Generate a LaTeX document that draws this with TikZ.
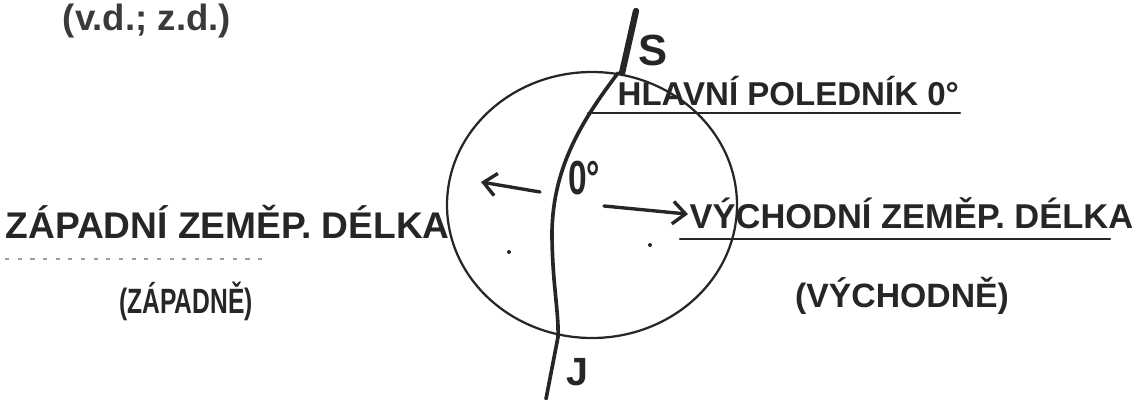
\documentclass[tikz,border=0pt]{standalone}
\usepackage{fontspec}
\usepackage{tikz}
\usetikzlibrary{arrows.meta, positioning, calc}
\setmainfont{Liberation Sans}
\newfontfamily\hand{Liberation Sans}
\newfontfamily\handn[FakeStretch=0.7]{Liberation Sans}
\definecolor{ink}{HTML}{262626}
\definecolor{printgray}{HTML}{3A3A3A}

\tikzset{
    handtext/.style={text=ink, inner sep=1pt, font=\hand\bfseries\fontsize{#1}{#1}\selectfont},
    handnarrow/.style={text=ink, inner sep=1pt, font=\handn\bfseries\fontsize{#1}{#1}\selectfont},
    handline/.style={draw=ink, line width=1.6pt, line cap=round},
    handarrow/.style={handline, line width=2.4pt, -{Straight Barb[length=9pt, width=16pt, line width=2.4pt]}}
}

\begin{document}
\begin{tikzpicture}[x=0.025cm, y=-0.025cm]
    \useasboundingbox (0,0) rectangle (1141,400);

    % Title
    \node[text=printgray, font=\bfseries\fontsize{26}{26}\selectfont, anchor=west] (title) at (58,21) {(v.d.; z.d.)};

    % Globe and prime meridian
    \draw[handline] (592,205) ellipse [x radius=145, y radius=133];
    \draw[draw=ink, line width=4.5pt, line cap=round] (636,11) -- (622,73);
    \draw[handline, line width=2.6pt] (618,73) .. controls (584,118) and (553,165) .. (552,232)
        .. controls (552,282) and (559,312) .. (558,337) -- (546,399);

    % Poles
    \node[handtext=31] (lblS) at (653,50) {S};
    \node[handtext=28] (lblJ) at (577,372) {J};

    % Prime meridian label
    \node[handtext=23.5, anchor=base west] (hlavni) at (616,106) {HLAVNÍ POLEDNÍK 0°};
    \coordinate (ulH0) at (588,113);
    \coordinate (ulH1) at (960,113);
    \draw[handline] (ulH0) -- (ulH1);

    % Zero degrees and arrows
    \node[handnarrow=34] (nula) at (584,178) {0°};
    \coordinate (arrL0) at (540,192);
    \coordinate (arrL1) at (481,182);
    \draw[handarrow] (arrL0) -- (arrL1);
    \coordinate (arrR0) at (604,206);

    % West / east labels
    \node[handtext=26.4, anchor=base west] (zapad) at (4,238) {ZÁPADNÍ ZEMĚP. DÉLKA};
    \node[handtext=24.5, anchor=base west] (vychod) at (688,228) {VÝCHODNÍ ZEMĚP. DÉLKA};
    \draw[handarrow] (arrR0) -- ([yshift=-1pt]vychod.west);
    \coordinate (ulV0) at (680,239);
    \coordinate (ulV1) at (1110,239);
    \draw[handline] (ulV0) -- (ulV1);
    \coordinate (ulZ0) at (5,259);
    \coordinate (ulZ1) at (270,259);
    \draw[draw=ink!45, line width=1.2pt, dash pattern=on 3pt off 6pt] (ulZ0) -- (ulZ1);

    \node[handnarrow=25] (zapadp) at (186,301) {(ZÁPADNĚ)};
    \node[handtext=24] (vychodp) at (902,296) {(VÝCHODNĚ)};

    % Stray dots
    \fill[ink] (509,252) circle [radius=2];
    \fill[ink] (650,245) circle [radius=2];
\end{tikzpicture}
\end{document}
